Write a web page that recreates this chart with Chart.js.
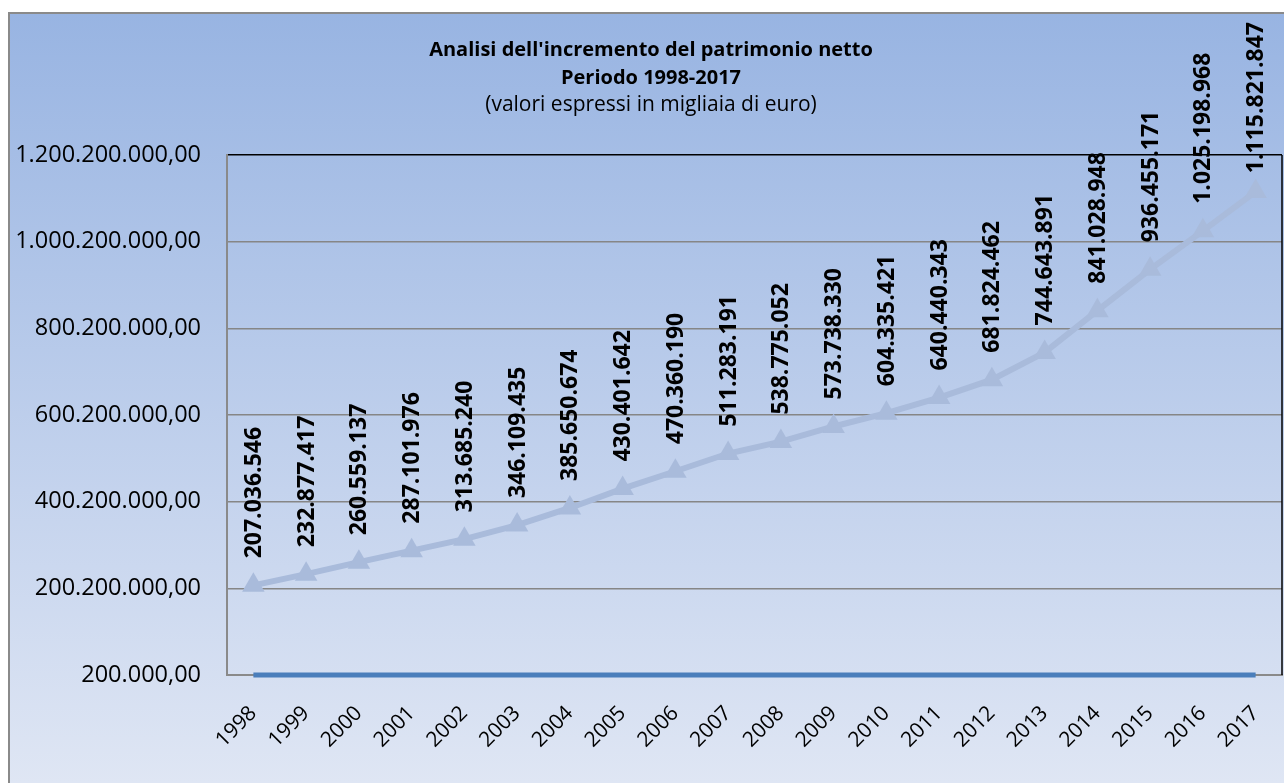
<!DOCTYPE html>
<html>
<head>
<meta charset="utf-8">
<script src="https://cdn.jsdelivr.net/npm/chart.js@4.4.0/dist/chart.umd.min.js"></script>
<style>
  html, body { margin: 0; padding: 0; background: #fff; }
  #wrap { width: 1284px; height: 783px; }
</style>
</head>
<body>
<div id="wrap"><canvas id="patrimonioChart" width="1284" height="783"></canvas></div>
<script>
// dati
var years = ["1998", "1999", "2000", "2001", "2002", "2003", "2004", "2005", "2006", "2007",
             "2008", "2009", "2010", "2011", "2012", "2013", "2014", "2015", "2016", "2017"];
var patrimonio = [207036546, 232877417, 260559137, 287101976, 313685240, 346109435, 385650674,
                  430401642, 470360190, 511283191, 538775052, 573738330, 604335421, 640440343,
                  681824462, 744643891, 841028948, 936455171, 1025198968, 1115821847];
var baseline = [200000, 200000, 200000, 200000, 200000, 200000, 200000, 200000, 200000, 200000,
                200000, 200000, 200000, 200000, 200000, 200000, 200000, 200000, 200000, 200000];
var yTicks = [200000, 200200000, 400200000, 600200000, 800200000, 1000200000, 1200200000];
var titleLines = ["Analisi dell'incremento del patrimonio netto", "Periodo 1998-2017", "(valori espressi in migliaia di euro)"];

function dots(n) {
    return String(n).replace(/\B(?=(\d{3})+(?!\d))/g, ".");
}

// sfondo, bordo e titolo
var backgroundPlugin = {
    id: "background",
    beforeDraw: function(chart) {
        var ctx = chart.ctx;
        ctx.save();
        ctx.fillStyle = "#ffffff";
        ctx.fillRect(0, 0, chart.width, chart.height);
        var g = ctx.createLinearGradient(0, 13, 0, chart.height);
        g.addColorStop(0, "#98b4e2");
        g.addColorStop(1, "#dfe6f4");
        ctx.fillStyle = g;
        ctx.fillRect(9, 13, chart.width, chart.height);
        ctx.strokeStyle = "#8a8a8a";
        ctx.lineWidth = 2;
        ctx.beginPath();
        ctx.moveTo(9, chart.height + 5);
        ctx.lineTo(9, 13);
        ctx.lineTo(chart.width + 5, 13);
        ctx.stroke();

        ctx.fillStyle = "#000";
        ctx.textAlign = "center";
        ctx.textBaseline = "alphabetic";
        ctx.font = "bold 20px 'Open Sans'";
        ctx.fillText(titleLines[0], 651, 56);
        ctx.fillText(titleLines[1], 651, 84);
        ctx.font = "21px 'Open Sans'";
        ctx.fillText(titleLines[2], 651, 111);
        ctx.restore();
    },
    afterDraw: function(chart) {
        var a = chart.chartArea;
        var ctx = chart.ctx;
        ctx.save();
        ctx.strokeStyle = "#000";
        ctx.lineWidth = 1.5;
        ctx.beginPath();
        ctx.moveTo(a.right, a.top);
        ctx.lineTo(a.right, a.bottom);
        ctx.stroke();
        ctx.restore();
    }
};

// etichette verticali sopra i punti (spostate in basso se escono dal riquadro)
var labelPlugin = {
    id: "valueLabels",
    afterDatasetsDraw: function(chart) {
        var ctx = chart.ctx;
        var meta = chart.getDatasetMeta(0);
        ctx.save();
        ctx.fillStyle = "#000";
        ctx.font = "bold 23px 'Open Sans'";
        ctx.textAlign = "left";
        ctx.textBaseline = "middle";
        meta.data.forEach(function(pt, i) {
            var txt = dots(patrimonio[i]);
            var w = ctx.measureText(txt).width;
            var start = pt.y - 27;
            if (start - w < 22) start = 22 + w;
            ctx.save();
            ctx.translate(pt.x, start);
            ctx.rotate(-Math.PI / 2);
            ctx.fillText(txt, 0, 1);
            ctx.restore();
        });
        ctx.restore();
    }
};

var ctx = document.getElementById("patrimonioChart").getContext("2d");
var patrimonioChart = new Chart(ctx, {
    type: "line",
    data: {
        labels: years,
        datasets: [{
            label: "Patrimonio netto",
            data: patrimonio,
            borderColor: "#a9bbdb",
            backgroundColor: "#a9bbdb",
            borderWidth: 6,
            pointStyle: "triangle",
            pointRadius: 13,
            pointBorderWidth: 0,
            pointHoverRadius: 13,
            tension: 0,
            clip: false,
            order: 1
        }, {
            label: "Base",
            data: baseline,
            borderColor: "#4a7ebb",
            backgroundColor: "#4a7ebb",
            borderWidth: 5,
            pointRadius: 0,
            tension: 0,
            clip: false,
            order: 2
        }]
    },
    options: {
        responsive: false,
        animation: false,
        layout: { autoPadding: false, padding: { top: 155, right: 2, left: 0, bottom: 0 } },
        plugins: {
            legend: { display: false },
            title: { display: false },
            tooltip: { enabled: false }
        },
        scales: {
            x: {
                offset: true,
                grid: { display: false, drawTicks: false },
                border: { display: true, color: "#8a8a8a", width: 2 },
                ticks: {
                    color: "#000",
                    font: { family: "'Open Sans'", size: 21 },
                    maxRotation: 45,
                    minRotation: 45,
                    autoSkip: false,
                    padding: 26
                },
                afterFit: function(scale) {
                    scale.height = 108;
                    scale.paddingLeft = 0;
                    scale.paddingRight = 0;
                }
            },
            y: {
                min: 200000,
                max: 1200200000,
                grid: {
                    drawTicks: false,
                    lineWidth: 1.5,
                    color: function(c) {
                        return c.tick && c.tick.value === 1200200000 ? "#000000" : "#868686";
                    }
                },
                border: { display: true, color: "#8a8a8a", width: 2 },
                ticks: {
                    color: "#000",
                    font: { family: "'Open Sans'", size: 23.5 },
                    padding: 26,
                    callback: function(v) { return dots(v) + ",00"; }
                },
                afterBuildTicks: function(scale) {
                    scale.ticks = yTicks.map(function(v) { return { value: v }; });
                },
                afterFit: function(scale) {
                    scale.width = 227;
                    scale.paddingTop = 0;
                    scale.paddingBottom = 0;
                }
            }
        }
    },
    plugins: [backgroundPlugin, labelPlugin]
});
</script>
</body>
</html>
